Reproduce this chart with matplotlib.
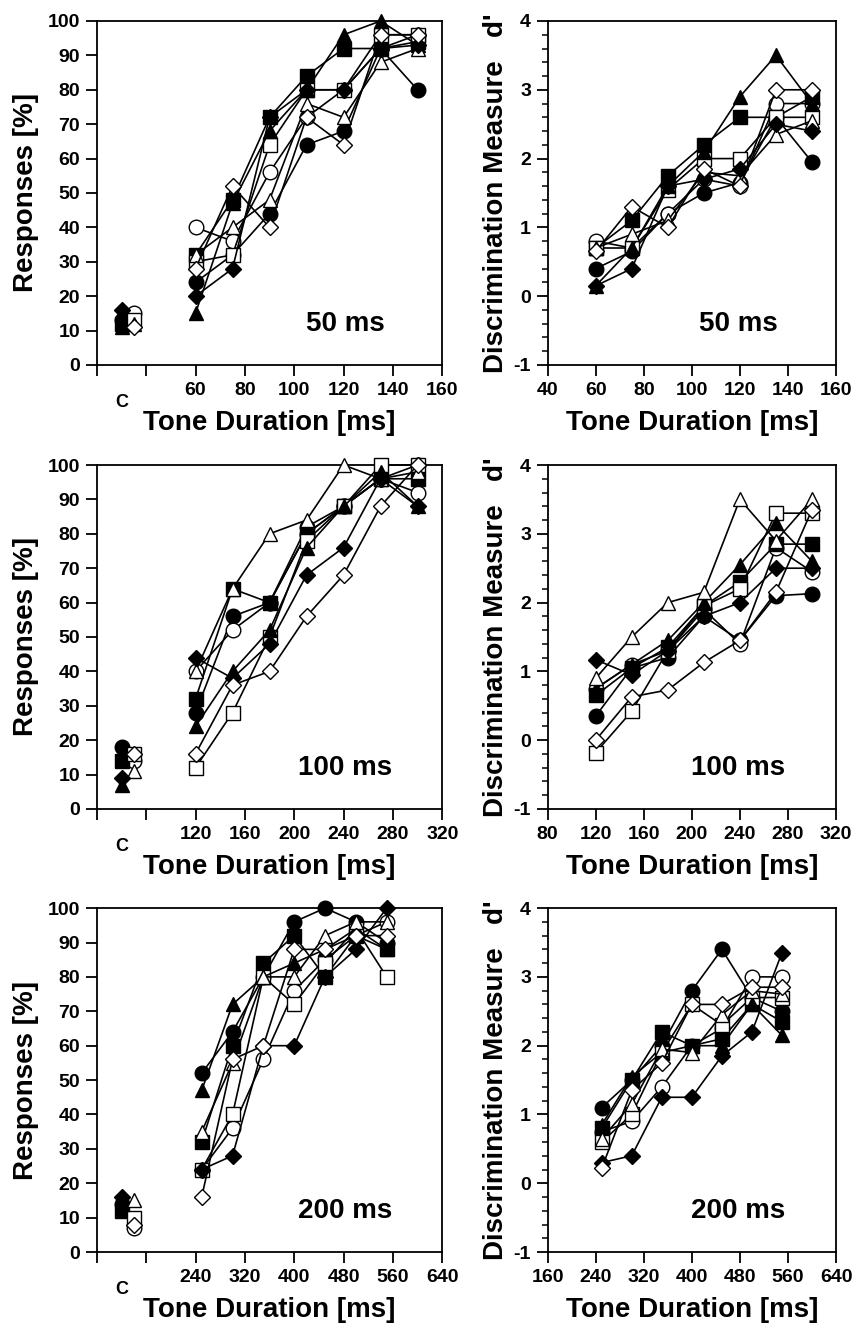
import matplotlib
matplotlib.use("Agg")
import matplotlib.pyplot as plt
import matplotlib.transforms as mtransforms
from matplotlib.ticker import MultipleLocator

plt.rcParams['font.family'] = ['Liberation Sans', 'DejaVu Sans']
plt.rcParams['font.weight'] = 'bold'
plt.rcParams['axes.unicode_minus'] = False

# markers of the 8 listeners: (marker, filled)
markers = ['o', 'o', 's', 's', '^', '^', 'D', 'D']
filled = [True, False, True, False, True, False, True, False]

# tone durations for the three reference durations
dur_50 = [60, 75, 90, 105, 120, 135, 150]
dur_100 = [120, 150, 180, 210, 240, 270, 300]
dur_200 = [250, 300, 350, 400, 450, 500, 550]

# control ("C") responses [%], one per listener
ctrl_50 = [13, 15, 12, 13, 11, 12, 16, 11]
ctrl_100 = [18, 14, 14, 16, 7, 11, 9, 16]
ctrl_200 = [14, 7, 12, 10, 14, 15, 16, 8]

# responses [%]
resp_50 = [
    [24, 32, 44, 64, 68, 92, 80],
    [40, 36, 56, 72, 80, 92, 96],
    [32, 48, 72, 84, 92, 92, 94],
    [30, 32, 64, 80, 80, 96, 96],
    [15, 47, 68, 80, 96, 100, 93],
    [32, 40, 48, 76, 72, 88, 92],
    [20, 28, 72, 80, 80, 92, 93],
    [28, 52, 40, 72, 64, 96, 96],
]
resp_100 = [
    [28, 56, 60, 80, 88, 96, 100],
    [40, 52, 60, 82, 88, 96, 92],
    [32, 64, 60, 80, 88, 96, 96],
    [12, 28, 50, 78, 88, 100, 100],
    [24, 40, 52, 76, 88, 98, 88],
    [40, 64, 80, 84, 100, 96, 98],
    [44, 38, 48, 68, 76, 96, 88],
    [16, 36, 40, 56, 68, 88, 100],
]
resp_200 = [
    [52, 64, 80, 96, 100, 96, 90],
    [24, 36, 56, 76, 85, 92, 96],
    [32, 60, 84, 92, 80, 92, 88],
    [24, 40, 80, 72, 84, 94, 80],
    [47, 72, 80, 84, 88, 94, 88],
    [35, 55, 80, 80, 92, 96, 96],
    [24, 28, 60, 60, 80, 88, 100],
    [16, 56, 60, 88, 88, 92, 92],
]

# discrimination measure d'
dprime_50 = [
    [0.40, 0.65, 1.20, 1.50, 1.65, 2.60, 1.95],
    [0.80, 0.70, 1.20, 1.70, 1.60, 2.80, 2.80],
    [0.70, 1.10, 1.75, 2.20, 2.60, 2.60, 2.90],
    [0.70, 0.70, 1.55, 2.00, 2.00, 2.60, 2.60],
    [0.15, 0.70, 1.60, 2.10, 2.90, 3.50, 2.80],
    [0.70, 0.90, 1.10, 1.80, 1.75, 2.35, 2.55],
    [0.15, 0.40, 1.60, 1.70, 1.85, 2.50, 2.40],
    [0.65, 1.30, 1.00, 1.85, 1.60, 3.00, 3.00],
]
dprime_100 = [
    [0.35, 1.05, 1.20, 1.80, 1.45, 2.10, 2.13],
    [0.75, 1.10, 1.30, 1.90, 1.40, 2.80, 2.45],
    [0.65, 1.05, 1.35, 1.95, 2.30, 2.85, 2.85],
    [-0.18, 0.42, 1.30, 1.95, 2.20, 3.30, 3.30],
    [0.75, 1.10, 1.45, 2.00, 2.55, 3.15, 2.60],
    [0.90, 1.50, 2.00, 2.15, 3.50, 2.90, 3.50],
    [1.17, 0.95, 1.30, 1.80, 2.00, 2.50, 2.50],
    [0.00, 0.63, 0.73, 1.13, 1.45, 2.15, 3.35],
]
dprime_200 = [
    [1.10, 1.50, 2.00, 2.80, 3.40, 2.70, 2.50],
    [0.75, 0.90, 1.40, 2.00, 2.25, 3.00, 3.00],
    [0.80, 1.50, 2.20, 2.00, 2.10, 2.60, 2.35],
    [0.60, 1.00, 1.90, 2.60, 2.30, 2.70, 2.70],
    [0.85, 1.55, 1.90, 2.00, 2.00, 2.60, 2.15],
    [0.65, 1.15, 1.95, 1.90, 2.45, 2.80, 2.75],
    [0.30, 0.40, 1.25, 1.25, 1.85, 2.20, 3.35],
    [0.22, 1.35, 1.75, 2.60, 2.60, 2.85, 2.85],
]

labels = ['50 ms', '100 ms', '200 ms']
durs = [dur_50, dur_100, dur_200]
ctrls = [ctrl_50, ctrl_100, ctrl_200]
resps = [resp_50, resp_100, resp_200]
dprimes = [dprime_50, dprime_100, dprime_200]
steps = [20, 40, 80]   # x tick step per row

fig = plt.figure(figsize=(8.57, 13.29), dpi=100)

rows = [(0.7254, 0.2588), (0.3913, 0.2588), (0.0579, 0.2588)]

def style(ax):
    for s in ax.spines.values():
        s.set_linewidth(1.3)
    ax.tick_params(direction='out', length=8, width=1.3, labelsize=14, pad=4)
    ax.tick_params(which='minor', direction='out', length=4, width=1.1)
    for t in ax.get_xticklabels() + ax.get_yticklabels():
        t.set_fontweight('bold')

def draw(ax, x, y, i):
    mfc = 'black' if filled[i] else 'white'
    ms = 8.5 if markers[i] == 'D' else 10.5
    ax.plot(x, y, color='black', lw=1.2, marker=markers[i], ms=ms,
            mfc=mfc, mec='black', mew=1.0, clip_on=False, zorder=3)

for r in range(3):
    bottom, height = rows[r]
    st = steps[r]
    # ----- left: responses
    ax = fig.add_axes([0.113, bottom, 0.403, height])
    for i in range(8):
        draw(ax, durs[r], resps[r][i], i)
        cx = 1.5 * st if filled[i] else 1.75 * st
        draw(ax, [cx], [ctrls[r][i]], i)
    ax.set_xlim(st, 8 * st)
    ax.set_ylim(0, 100)
    xt = [st * k for k in range(1, 9)]
    ax.set_xticks(xt)
    ax.set_xticklabels(['', ''] + [str(v) for v in xt[2:]])
    ax.set_yticks(range(0, 101, 10))
    ax.set_ylabel('Responses [%]', fontsize=20, fontweight='bold', labelpad=6)
    ax.set_xlabel('Tone Duration [ms]', fontsize=20, fontweight='bold', labelpad=8)
    style(ax)
    trans = mtransforms.blended_transform_factory(ax.transData, ax.transAxes)
    ax.text(1.5 * st, -0.11, 'C', transform=trans, ha='center', va='center',
            fontsize=13, fontweight='bold')
    ax.text(0.72, 0.12, labels[r], transform=ax.transAxes, ha='center',
            va='center', fontsize=20, fontweight='bold')

    # ----- right: d'
    ax = fig.add_axes([0.639, bottom, 0.3365, height])
    for i in range(8):
        draw(ax, durs[r], dprimes[r][i], i)
    ax.set_xlim(2 * st, 8 * st)
    ax.set_ylim(-1, 4)
    ax.set_xticks([st * k for k in range(2, 9)])
    ax.set_yticks(range(-1, 5))
    ax.yaxis.set_minor_locator(MultipleLocator(0.2))
    ax.set_ylabel("Discrimination Measure   d'", fontsize=20, fontweight='bold',
                  labelpad=3)
    ax.set_xlabel('Tone Duration [ms]', fontsize=20, fontweight='bold', labelpad=8)
    style(ax)
    ax.text(0.66, 0.12, labels[r], transform=ax.transAxes, ha='center',
            va='center', fontsize=20, fontweight='bold')

fig.savefig('out.png', dpi=100)
